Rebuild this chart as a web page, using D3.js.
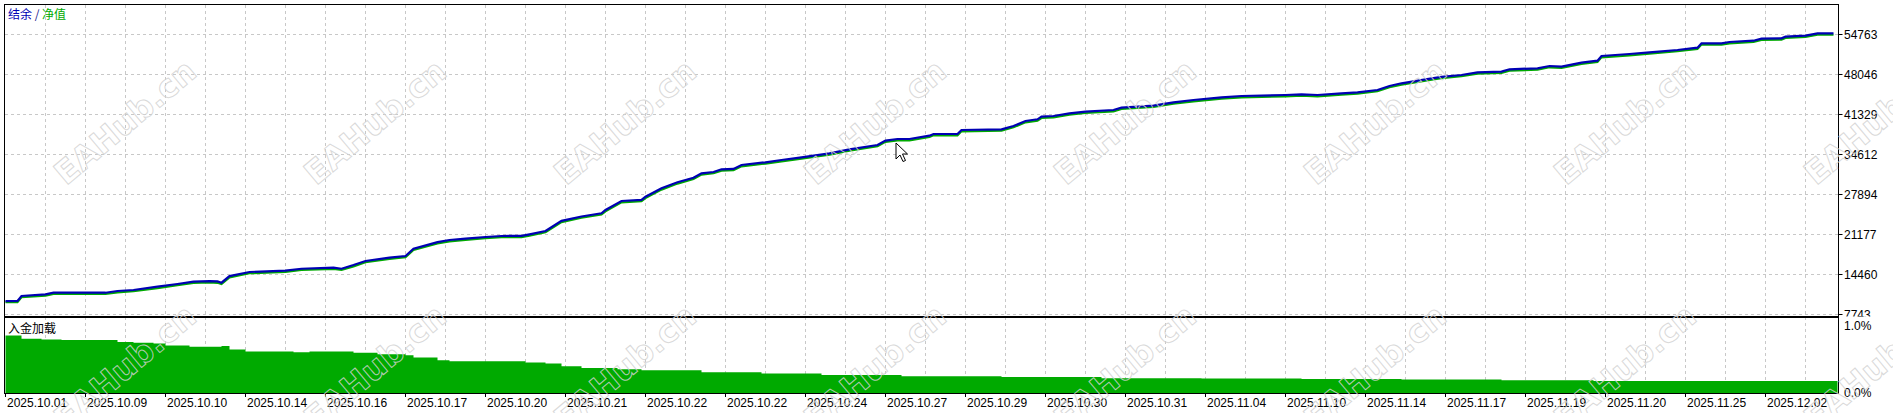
<!DOCTYPE html>
<html>
<head>
<meta charset="utf-8">
<script src="https://cdn.jsdelivr.net/npm/d3@7"></script>
<style>
body { margin: 0; background: #fff; }
</style>
</head>
<body>
<div id="chart"></div>
<script>
// deal number -> balance / equity
var deals = [0,3,4,10,12,25,28,32,38,43,47,51,53,54,56,61,70,74,82,84,87,90,96,100,102,108,111,115,120,124,129,131,135,139,144,149,150,154,159,160,164,168,172,174,177,179,182,184,190,194,199,206,211,218,220,223,226,231,232,238,239,249,252,255,258,259,262,266,270,277,279,287,292,297,304,309,320,324,328,334,338,343,346,349,355,359,364,368,374,376,383,386,389,394,398,399,406,411,418,423,424,429,431,437,439,444,445,450,453,457];
var balance = [10000,10010,10850,11135,11400,11400,11690,11860,12410,12870,13250,13360,13300,13080,14200,14880,15100,15430,15600,15430,16050,16730,17280,17570,18800,19900,20250,20500,20760,20925,20950,21205,21765,23470,24200,24740,25300,26800,27000,27525,28935,29943,30715,31454,31673,32126,32182,32848,33302,33688,34141,34813,35485,36207,36950,37214,37214,37769,38054,38054,38726,38843,39397,40237,40523,40959,41077,41530,41799,42084,42471,42806,43377,43763,44217,44435,44603,44715,44603,44889,45057,45443,46115,46568,47240,47650,47962,48415,48527,48919,49087,49473,49361,50027,50363,51153,51488,51774,52160,52546,53285,53285,53504,53722,54058,54125,54394,54562,54965,54965];
var equity = [9800,9810,10620,10900,11180,11170,11450,11640,12170,12640,13020,13130,13050,12850,13960,14650,14870,15200,15370,15200,15810,16500,17050,17340,18560,19670,20020,20270,20530,20700,20720,20970,21530,23230,23970,24510,25060,26560,26770,27290,28700,29710,30480,31220,31440,31890,31950,32610,33070,33450,33910,34580,35250,35970,36720,36980,36980,37530,37820,37820,38490,38610,39160,40000,40290,40720,40840,41300,41560,41850,42240,42570,43140,43530,43980,44200,44370,44480,44370,44650,44820,45210,45880,46330,47000,47410,47730,48180,48290,48680,48850,49240,49130,49790,50130,50920,51250,51540,51930,52310,53050,53050,53270,53490,53820,53890,54160,54330,54730,54730];

// deposit load (%)
var loadDeals = [0,3,4,9,14,25,28,32,37,40,46,54,56,60,72,76,87,93,100,102,108,111,130,135,139,144,153,159,174,189,204,224,249,274,299,324,349,374,397,458];
var loadPct = [0.86,0.86,0.81,0.80,0.79,0.79,0.76,0.75,0.74,0.71,0.69,0.70,0.65,0.62,0.61,0.62,0.60,0.58,0.565,0.53,0.49,0.475,0.455,0.44,0.40,0.375,0.355,0.34,0.31,0.29,0.27,0.25,0.24,0.22,0.215,0.21,0.20,0.19,0.18,0.18];

var dateLabels = ["2025.10.01","2025.10.09","2025.10.10","2025.10.14","2025.10.16","2025.10.17","2025.10.20","2025.10.21","2025.10.22","2025.10.22","2025.10.24","2025.10.27","2025.10.29","2025.10.30","2025.10.31","2025.11.04","2025.11.10","2025.11.14","2025.11.17","2025.11.19","2025.11.20","2025.11.25","2025.12.02"];
var yTicks = [7743,14460,21177,27894,34612,41329,48046,54763];
var loadTicks = [0, 1];
var loadTickLabels = ["0.0%", "1.0%"];

var chart_width = 1893,
	chart_height = 413;
var pLeft = 4, pRight = 1838, pTop = 4, pMid = 316, lTop = 317, lBottom = 393;
var font = "'Liberation Sans', Arial, sans-serif";
var cjk = "'Noto Sans CJK SC', sans-serif";

var svg = d3.select("#chart")
	.append("svg")
		.attr("width", chart_width)
		.attr("height", chart_height)
		.style("display", "block");

var x = d3.scaleLinear().domain([0, 440]).range([5.5, 1765.5]);
var y = d3.scaleLinear().domain([7743, 54763]).range([314.5, 34.5]);
var yLoad = d3.scaleLinear().domain([0, 1]).range([393, 326]);

var defs = svg.append("defs");
defs.append("clipPath").attr("id", "clipTop").append("rect")
	.attr("x", pLeft + 1).attr("y", pTop + 1).attr("width", pRight - pLeft - 1).attr("height", pMid - pTop - 1);
defs.append("clipPath").attr("id", "clipLow").append("rect")
	.attr("x", pLeft + 1).attr("y", lTop + 1).attr("width", pRight - pLeft - 1).attr("height", lBottom - lTop);
defs.append("clipPath").attr("id", "clipTopAxis").append("rect")
	.attr("x", pRight).attr("y", 0).attr("width", 60).attr("height", lTop - 0.5);

// grid
var gridX = d3.range(10, 460, 10).filter(function(d) { return x(d) < pRight; });
svg.append("g").selectAll("line")
	.data(gridX)
	.enter()
	.append("line")
	.attr("x1", function(d) { return x(d); })
	.attr("x2", function(d) { return x(d); })
	.attr("y1", pTop + 1)
	.attr("y2", lBottom)
	.attr("stroke", "#c8c8c8")
	.attr("stroke-dasharray", "3,3");

svg.append("g").selectAll("line")
	.data(yTicks)
	.enter()
	.append("line")
	.attr("x1", pLeft + 1)
	.attr("x2", pRight)
	.attr("y1", function(d) { return y(d); })
	.attr("y2", function(d) { return y(d); })
	.attr("stroke", "#c8c8c8")
	.attr("stroke-dasharray", "3,3");

// deposit load area
var area = d3.area()
	.x(function(d, i) { return x(loadDeals[i]); })
	.y0(yLoad(0))
	.y1(function(d) { return yLoad(d); })
	.curve(d3.curveStepAfter);

svg.append("path")
	.datum(loadPct)
	.attr("clip-path", "url(#clipLow)")
	.attr("d", area)
	.attr("fill", "#00aa00");

// equity + balance
var line = d3.line()
	.x(function(d, i) { return x(deals[i]); })
	.y(function(d) { return y(d); });

var lines = svg.append("g").attr("clip-path", "url(#clipTop)");
lines.append("path")
	.datum(equity)
	.attr("d", line)
	.attr("fill", "none")
	.attr("stroke", "#00aa00")
	.attr("stroke-width", 2);
lines.append("path")
	.datum(balance)
	.attr("d", line)
	.attr("fill", "none")
	.attr("stroke", "#0000b4")
	.attr("stroke-width", 2.2);

// borders
svg.append("rect")
	.attr("x", pLeft + 0.5).attr("y", pTop + 0.5)
	.attr("width", pRight - pLeft).attr("height", pMid - pTop)
	.attr("fill", "none").attr("stroke", "#000");
svg.append("rect")
	.attr("x", pLeft + 0.5).attr("y", lTop + 0.5)
	.attr("width", pRight - pLeft).attr("height", lBottom - lTop)
	.attr("fill", "none").attr("stroke", "#000");

// right axis (balance)
var ra = svg.append("g").attr("clip-path", "url(#clipTopAxis)");
ra.selectAll("line")
	.data(yTicks)
	.enter()
	.append("line")
	.attr("x1", pRight + 0.5).attr("x2", pRight + 4.5)
	.attr("y1", function(d) { return y(d); })
	.attr("y2", function(d) { return y(d); })
	.attr("stroke", "#000");
ra.selectAll("text")
	.data(yTicks)
	.enter()
	.append("text")
	.text(function(d) { return d; })
	.attr("x", pRight + 6)
	.attr("y", function(d) { return y(d); })
	.attr("dy", "0.36em")
	.attr("font-family", font)
	.attr("font-size", 12)
	.attr("fill", "#000");

// right axis (load)
svg.append("g").selectAll("text")
	.data(loadTicks)
	.enter()
	.append("text")
	.text(function(d, i) { return loadTickLabels[i]; })
	.attr("x", pRight + 6)
	.attr("y", function(d) { return yLoad(d); })
	.attr("dy", "0.36em")
	.attr("font-family", font)
	.attr("font-size", 12)
	.attr("fill", "#000");

// bottom axis
svg.append("g").selectAll("line")
	.data(dateLabels)
	.enter()
	.append("line")
	.attr("x1", function(d, i) { return x(i * 20); })
	.attr("x2", function(d, i) { return x(i * 20); })
	.attr("y1", lBottom)
	.attr("y2", lBottom + 4)
	.attr("stroke", "#000");
svg.append("g").selectAll("text")
	.data(dateLabels)
	.enter()
	.append("text")
	.text(function(d) { return d; })
	.attr("x", function(d, i) { return x(i * 20) + 1.5; })
	.attr("y", 407)
	.attr("font-family", font)
	.attr("font-size", 12)
	.attr("fill", "#000");

// titles
var legend = svg.append("text")
	.attr("x", 8).attr("y", 19)
	.attr("font-family", cjk)
	.attr("font-size", 12);
legend.append("tspan").text("结余").attr("fill", "#0000b4");
legend.append("tspan").text(" / ").attr("fill", "#20208a");
legend.append("tspan").text("净值").attr("fill", "#00aa00");

svg.append("text")
	.text("入金加载")
	.attr("x", 8).attr("y", 333)
	.attr("font-family", cjk)
	.attr("font-size", 12)
	.attr("fill", "#000");

// watermark
var marks = [];
[122, 367].forEach(function(cy) {
	for (var k = 0; k < 8; k++) marks.push([125 + 250 * k, cy]);
});
svg.append("g").selectAll("text")
	.data(marks)
	.enter()
	.append("text")
	.text("EAHub.cn")
	.attr("transform", function(d) { return "translate(" + d[0] + "," + d[1] + ") rotate(-40)"; })
	.attr("text-anchor", "middle")
	.attr("dy", "0.35em")
	.attr("font-family", "'DejaVu Sans', sans-serif")
	.attr("font-weight", "bold")
	.attr("font-size", 32)
	.attr("fill", "none")
	.attr("stroke", "#d2d2d2")
	.attr("stroke-opacity", 0.85)
	.attr("stroke-width", 1);

// mouse pointer left on the screenshot
svg.append("path")
	.attr("transform", "translate(896,143)")
	.attr("d", "M0,0 L0,16 L4,12 L7,18.5 L9.5,17.5 L6.5,11 L11.5,11 Z")
	.attr("fill", "#fff")
	.attr("stroke", "#000")
	.attr("stroke-width", 1);
</script>
</body>
</html>
